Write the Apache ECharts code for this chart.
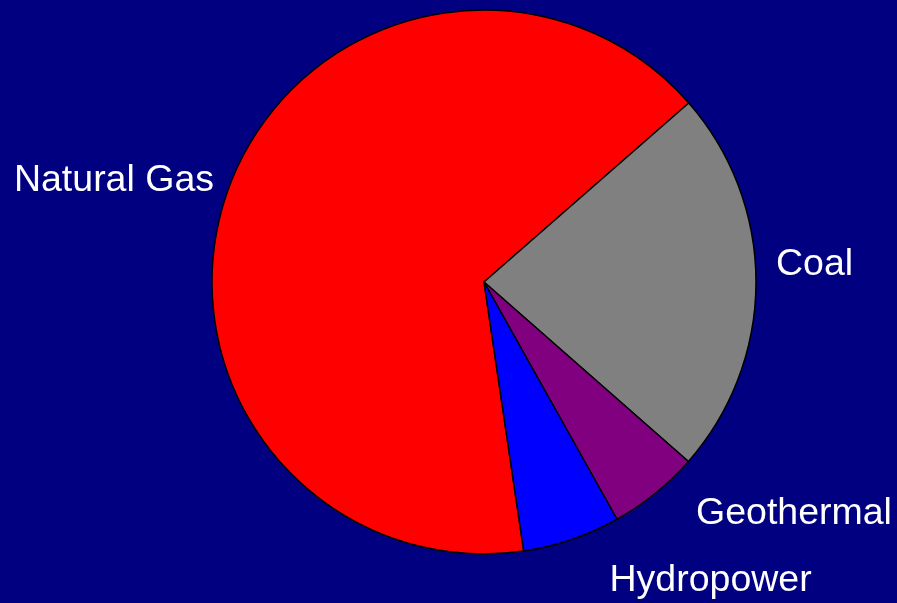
<!DOCTYPE html>
<html>
<head>
<meta charset="utf-8">
<script src="https://cdn.jsdelivr.net/npm/echarts@6/dist/echarts.min.js"></script>
<style>
    html, body { margin: 0; padding: 0; background: #000080; }
    #pie { width: 897px; height: 603px; }
</style>
</head>
<body>
<div id="pie"></div>
<script>
    // 发电来源占比 (%)
    const sources = ['Natural Gas', 'Coal', 'Geothermal', 'Hydropower'];
    const shares = [65.9, 22.9, 5.4, 5.8];
    const colors = ['#ff0000', '#808080', '#800080', '#0000ff'];

    // 标签位置 (x, y, 对齐)
    const labelSpots = [
        [214, 180.5, 'right'],
        [776, 265, 'left'],
        [696, 514, 'left'],
        [609.5, 581, 'left']
    ];

    const myChart = echarts.init(document.getElementById('pie'));
    const option = {
        backgroundColor: '#000080',
        animation: false,
        color: colors,
        series: [
            {
                type: 'pie',
                center: [484, 282],
                radius: 272,
                startAngle: 278.4,
                clockwise: true,
                avoidLabelOverlap: false,
                silent: true,
                itemStyle: {
                    borderColor: '#000',
                    borderWidth: 1.5
                },
                label: {
                    show: true,
                    position: 'outside',
                    color: '#fff',
                    fontFamily: 'Liberation Sans, Arial, sans-serif',
                    fontSize: 37.5,
                    formatter: '{b}'
                },
                labelLine: { show: false },
                labelLayout: function (params) {
                    const s = labelSpots[params.dataIndex];
                    return { x: s[0], y: s[1], align: s[2], verticalAlign: 'middle' };
                },
                data: sources.map((name, i) => ({ name: name, value: shares[i] }))
            }
        ]
    };
    myChart.setOption(option);
</script>
</body>
</html>
